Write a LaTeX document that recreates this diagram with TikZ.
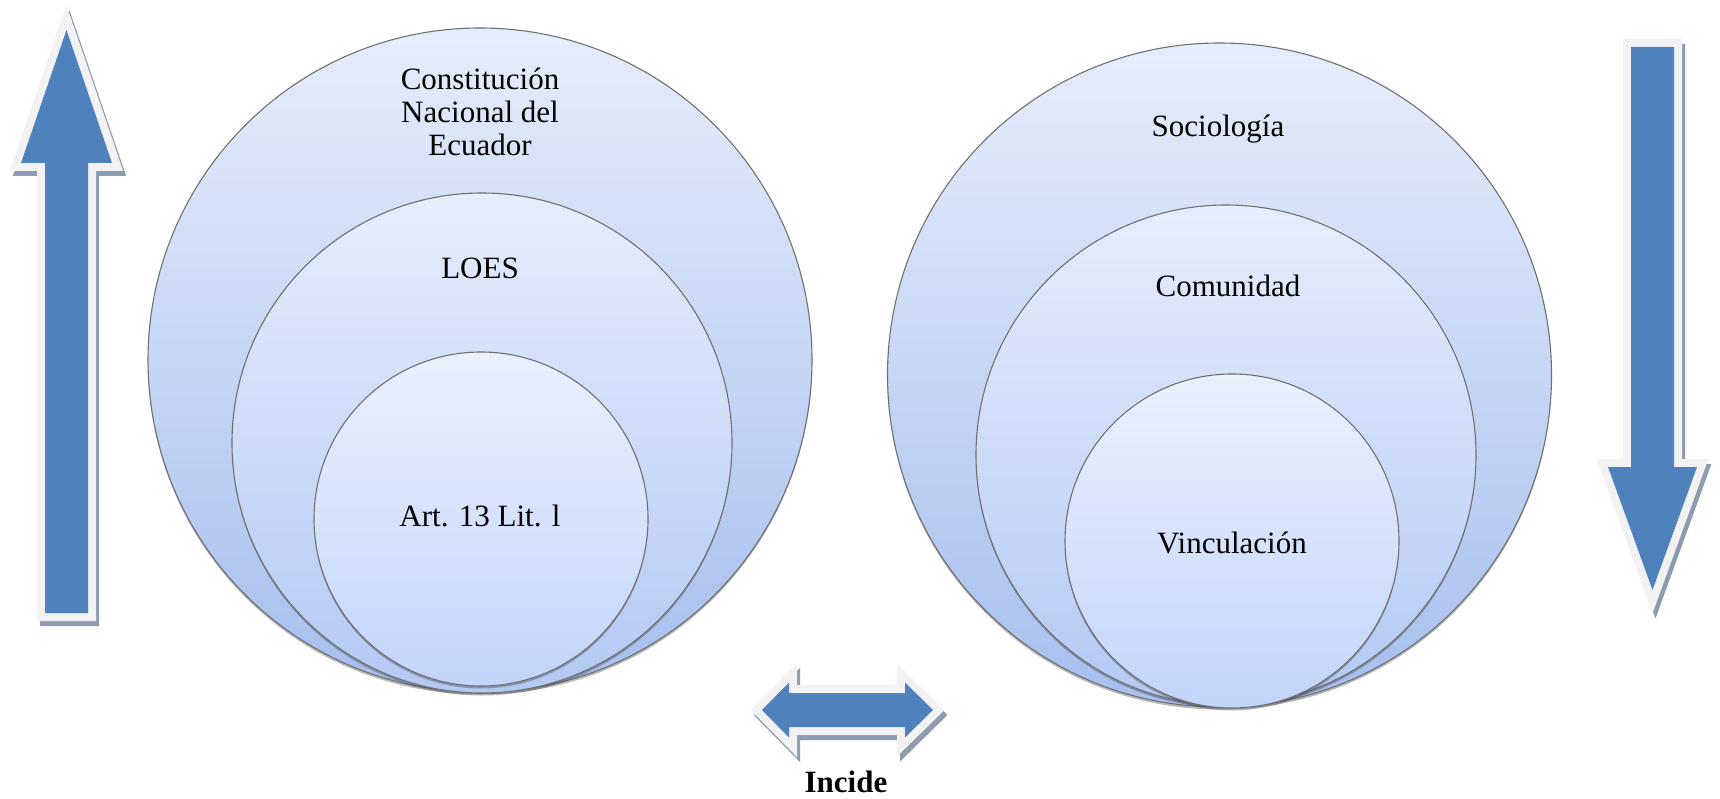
\documentclass[tikz,border=0pt]{standalone}
\usepackage{fontspec}
\setmainfont{Liberation Serif}
\usetikzlibrary{shadows}
\definecolor{arrowblue}{HTML}{4F81BD}
\definecolor{arrowedge}{HTML}{F2F2F2}
\definecolor{arrowshade}{HTML}{8E9BAF}
\definecolor{ringline}{HTML}{707070}
\definecolor{outtop}{HTML}{E6EDFB}
\definecolor{outbot}{HTML}{A6BFEE}
\definecolor{midtop}{HTML}{E6EDFC}
\definecolor{midbot}{HTML}{B3C9F4}
\definecolor{intop}{HTML}{EAF0FD}
\definecolor{inbot}{HTML}{C2D5FA}
\begin{document}
\begin{tikzpicture}[x=1pt,y=-1pt,
  ring/.style={circle, inner sep=0pt, draw=ringline, line width=1.1pt,
    drop shadow={shadow xshift=0pt, shadow yshift=-2.5pt, opacity=0.35, fill=black!80}},
  outring/.style={ring, top color=outtop, bottom color=outbot},
  midring/.style={ring, top color=midtop, bottom color=midbot},
  inring/.style={ring, top color=intop, bottom color=inbot},
  lbl/.style={font=\fontsize{31}{33}\selectfont, inner sep=0pt, text=black},
  arrowbody/.style={fill=arrowblue, preaction={draw=arrowedge, line width=16pt, line join=miter, miter limit=10}},
  arrowshadow/.style={fill=arrowshade, draw=arrowshade, line width=16pt, line join=miter, miter limit=10, shift={(3,5)}}
]
\useasboundingbox (0,0) rectangle (1720,799);
\fill[white] (0,0) rectangle (1720,799);

% up arrow
\fill[arrowshadow] (66.5,30) -- (112,163) -- (88,163) -- (88,613) -- (45,613) -- (45,163) -- (21,163) -- cycle;
\fill[arrowbody] (66.5,30) -- (112,163) -- (88,163) -- (88,613) -- (45,613) -- (45,163) -- (21,163) -- cycle;

% down arrow
\fill[arrowshadow] (1631,47) -- (1674,47) -- (1674,467) -- (1697,467) -- (1652.5,590) -- (1608,467) -- (1631,467) -- cycle;
\fill[arrowbody] (1631,47) -- (1674,47) -- (1674,467) -- (1697,467) -- (1652.5,590) -- (1608,467) -- (1631,467) -- cycle;

% double arrow
\fill[arrowshadow] (762,710) -- (789,682.5) -- (789,693) -- (905,693) -- (905,682.5) -- (933,710) -- (905,737.5) -- (905,727) -- (789,727) -- (789,737.5) -- cycle;
\fill[arrowbody] (762,710) -- (789,682.5) -- (789,693) -- (905,693) -- (905,682.5) -- (933,710) -- (905,737.5) -- (905,727) -- (789,727) -- (789,737.5) -- cycle;

% left circles
\node[outring, minimum size=664] (lout) at (480,360) {};
\node[midring, minimum size=500] (lmid) at (482,443) {};
\node[inring, minimum size=334] (lin) at (481,519) {};

% right circles
\node[outring, minimum size=664] (rout) at (1219.5,375) {};
\node[midring, minimum size=500] (rmid) at (1226,455) {};
\node[inring, minimum size=334] (rin) at (1232,541) {};

% labels
\node[lbl, align=center] (tcons) at (480,112) {Constitución\\Nacional del\\Ecuador};
\node[lbl, anchor=base] (tloes) at (480,279) {LOES};
\node[lbl, anchor=base] (tart) at (480,526) {Art. 13 Lit. l};
\node[lbl, anchor=base] (tsoc) at (1218,137) {Sociología};
\node[lbl, anchor=base] (tcom) at (1228,297) {Comunidad};
\node[lbl, anchor=base] (tvin) at (1232,553) {Vinculación};
\node[lbl, anchor=base, font=\fontsize{31}{33}\selectfont\bfseries] (tinc) at (846,792) {Incide};
\end{tikzpicture}
\end{document}
